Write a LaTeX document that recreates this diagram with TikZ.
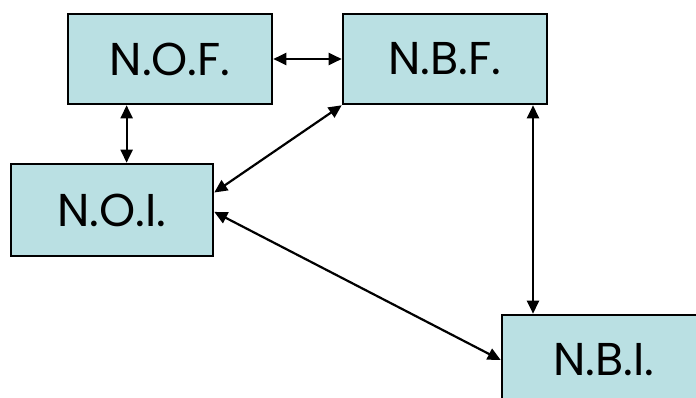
\documentclass[tikz,border=0pt]{standalone}
\usepackage{fontspec}
\setmainfont{Poppins}
\usetikzlibrary{arrows.meta,calc}
\definecolor{boxfill}{RGB}{186,224,227}
\tikzset{
  unitbox/.style={draw=black, line width=2.6pt, fill=boxfill, rectangle,
    minimum width=204pt, minimum height=90pt, inner sep=0pt,
    font=\fontsize{46}{50}\selectfont},
  link/.style={line width=2.2pt,
    {Triangle[length=13pt,width=12pt]}-{Triangle[length=13pt,width=12pt]}}
}
\begin{document}
\begin{tikzpicture}[x=1pt,y=-1pt]
  \clip (0,0) rectangle (696,398);
  \fill[white] (0,0) rectangle (696,398);
  \node[unitbox] (nof) at (170,59)  {N.O.F.};
  \node[unitbox] (nbf) at (445,59)  {N.B.F.};
  \node[unitbox, minimum width=202pt, minimum height=92pt] (noi) at (112,210) {N.O.I.};
  \node[unitbox] (nbi) at (604,360) {N.B.I.};
  % connectors
  \draw[link] (nof) -- (nbf);
  \coordinate (a) at ($(nof.south west)!0.29!(nof.south east)$);
  \draw[link] (a) -- (a |- noi.north);
  \coordinate (b) at ($(noi.north east)!0.315!(noi.south east)$);
  \draw[link] (nbf.south west) -- (b);
  \coordinate (c) at ($(noi.north east)!0.52!(noi.south east)$);
  \draw[link] (c) -- (nbi.west);
  \coordinate (d) at ($(nbf.south west)!0.926!(nbf.south east)$);
  \draw[link] (d) -- (d |- nbi.north);
\end{tikzpicture}
\end{document}
